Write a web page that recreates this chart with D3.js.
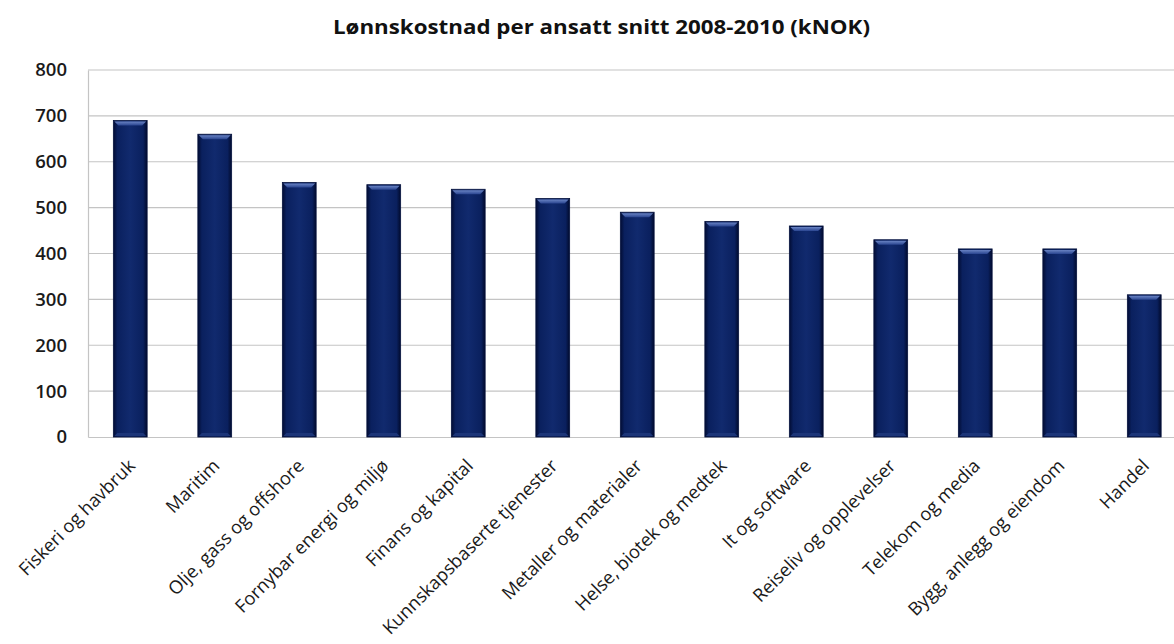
<!DOCTYPE html>
<html><head><meta charset="utf-8">
<script src="https://cdn.jsdelivr.net/npm/d3@7"></script>
<style>body{margin:0;background:#fff;}svg{display:block;}</style>
</head><body>
<svg id="c" width="1174" height="644"></svg>
<script>
const title = "Lønnskostnad per ansatt snitt 2008-2010 (kNOK)";
const categories = ["Fiskeri og havbruk","Maritim","Olje, gass og offshore","Fornybar energi og miljø","Finans og kapital","Kunnskapsbaserte tjenester","Metaller og materialer","Helse, biotek og medtek","It og software","Reiseliv og opplevelser","Telekom og media","Bygg, anlegg og eiendom","Handel"];
const values = [690,660,555,550,540,520,490,470,460,430,410,410,310];
const yTicks = [0,100,200,300,400,500,600,700,800];

const svg = d3.select("#c");
const pLeft = 88, pRight = 1186.5, pTop = 70, pBottom = 437;

const x = d3.scaleBand().domain(categories).range([pLeft, pRight]).paddingInner(0.6).paddingOuter(0.3);
const y = d3.scaleLinear().domain([0, 800]).range([pBottom, pTop]);

const defs = svg.append("defs");
const g1 = defs.append("linearGradient").attr("id","barg").attr("x1","0").attr("x2","1").attr("y1","0").attr("y2","0");
[[0,"#020c33"],[0.12,"#0a205e"],[0.5,"#112a6e"],[0.88,"#0a205e"],[1,"#010a2c"]].forEach(([o,c])=>g1.append("stop").attr("offset",o).attr("stop-color",c));
const g2 = defs.append("linearGradient").attr("id","topg").attr("x1","0").attr("x2","0").attr("y1","0").attr("y2","1");
g2.append("stop").attr("offset",0).attr("stop-color","#6a84c4");
g2.append("stop").attr("offset",1).attr("stop-color","#2a4590");

// grid
svg.append("g").selectAll("line").data(yTicks.filter(d=>d>0)).join("line")
  .attr("x1", pLeft).attr("x2", 1174).attr("y1", d=>y(d)).attr("y2", d=>y(d))
  .attr("stroke", "#c4c4c4").attr("stroke-width", 1.2);

// y axis
const ya = svg.append("g").attr("transform", `translate(${pLeft},0)`)
  .call(d3.axisLeft(y).tickValues(yTicks).tickSize(0).tickPadding(21));
ya.select(".domain").attr("stroke","#c4c4c4").attr("stroke-width",1.2);
ya.selectAll("text").attr("font-family","'Open Sans'").attr("font-size",18.5).attr("font-weight",600).attr("fill","#1a1a1a");

// x axis
const xa = svg.append("g").attr("transform", `translate(0,${pBottom})`)
  .call(d3.axisBottom(x).tickSize(0).tickSizeOuter(0));
xa.select(".domain").attr("stroke","#c4c4c4").attr("stroke-width",1.2);
xa.selectAll("text").attr("font-family","'Open Sans'").attr("font-size",18.3).attr("fill","#1a1a1a")
  .attr("text-anchor","end").attr("dy","0").attr("y",0)
  .attr("transform","translate(6,30) rotate(-45)");

// bars
const bw = x.bandwidth();
const bars = svg.append("g").selectAll("g").data(values).join("g");
bars.append("rect")
  .attr("x", (d,i)=>x(categories[i])).attr("y", d=>y(d))
  .attr("width", bw).attr("height", d=>pBottom - y(d))
  .attr("fill","url(#barg)").attr("stroke","#06133f").attr("stroke-width",0.8);
bars.append("path")
  .attr("d", (d,i)=>{const x0=x(categories[i]), y0=y(d); const b=5;
    return `M${x0+1},${y0+1}L${x0+bw-1},${y0+1}L${x0+bw-b},${y0+b}L${x0+b},${y0+b}Z`;})
  .attr("fill","url(#topg)");
bars.append("path")
  .attr("d", (d,i)=>{const x0=x(categories[i]), y0=pBottom; const b=4;
    return `M${x0+b},${y0-b}L${x0+bw-b},${y0-b}L${x0+bw-1},${y0-1}L${x0+1},${y0-1}Z`;})
  .attr("fill","#1c3578");

// title
svg.append("text").attr("x", 333).attr("y", 34).attr("text-anchor","start")
  .attr("font-family","'Open Sans'").attr("font-weight",700).attr("font-size",19).attr("fill","#111")
  .attr("textLength", 537).attr("lengthAdjust","spacingAndGlyphs")
  .text(title);
</script>
</body></html>
